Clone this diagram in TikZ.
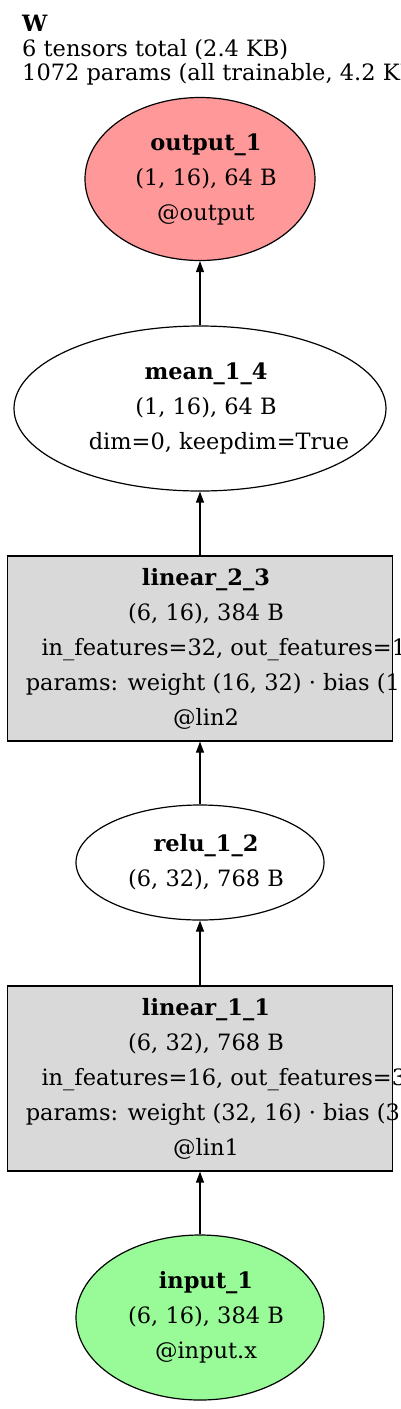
\documentclass[tikz,border=0pt]{standalone}
\usepackage{fontspec}
\setmainfont{DejaVu Serif}
\usetikzlibrary{arrows.meta, shapes.geometric}
\definecolor{outfill}{HTML}{FF9999}
\definecolor{infill}{HTML}{98FB98}
\definecolor{opfill}{HTML}{D9D9D9}

\begin{document}
\begin{tikzpicture}[
    x=1pt, y=1pt,
    >={Triangle[length=11pt, width=8pt]},
    font=\fontsize{22.5pt}{35pt}\selectfont,
    tensor/.style={draw, ellipse, line width=1.2pt, inner sep=0pt},
    layer/.style={draw, rectangle, line width=1.2pt, fill=opfill, minimum width=385pt, minimum height=185pt, inner sep=0pt},
    txt/.style={align=center, xshift=6pt, inner sep=0pt},
    edge/.style={->, line width=1.2pt}
    ]

% page: white, 400 x 1409
\fill[white] (0,0) rectangle (400,-1409);
\useasboundingbox (0,0) rectangle (400,-1409);

% header
\node[anchor=north west, align=left, inner sep=0pt, font=\fontsize{22.5pt}{24.5pt}\selectfont] (title) at (22,-15)
    {\textbf{W}\\6 tensors total (2.4 KB)\\1072 params (all trainable, 4.2 KB)};

% tensors and layers (fixed coordinates, top to bottom)
\node[tensor, fill=outfill, minimum width=230pt, minimum height=163pt,
    label={[txt]center:{\textbf{output\_1}\\(1, 16), 64 B\\@output}}] (out) at (200,-179) {};
\node[tensor, fill=white, minimum width=372pt, minimum height=165pt,
    label={[txt]center:{\textbf{mean\_1\_4}\\(1, 16), 64 B\\\hspace*{26pt}dim=0, keepdim=True}}] (mean) at (200,-408.5) {};
\node[layer,
    label={[txt]center:{\textbf{linear\_2\_3}\\(6, 16), 384 B\\\hspace*{50pt}in\_features=32, out\_features=16\\\hspace*{44pt}params: weight (16, 32) · bias (16,)\\@lin2}}] (lin2) at (200,-648.5) {};
\node[tensor, fill=white, minimum width=248pt, minimum height=115pt,
    label={[txt]center:{\textbf{relu\_1\_2}\\(6, 32), 768 B}}] (relu) at (200,-862.5) {};
\node[layer,
    label={[txt]center:{\textbf{linear\_1\_1}\\(6, 32), 768 B\\\hspace*{50pt}in\_features=16, out\_features=32\\\hspace*{44pt}params: weight (32, 16) · bias (32,)\\@lin1}}] (lin1) at (200,-1078.5) {};
\node[tensor, fill=infill, minimum width=248pt, minimum height=165pt,
    label={[txt]center:{\textbf{input\_1}\\(6, 16), 384 B\\@input.x}}] (inp) at (200,-1317.5) {};

% data flow, bottom to top
\draw[edge] (inp) -- (lin1);
\draw[edge] (lin1) -- (relu);
\draw[edge] (relu) -- (lin2);
\draw[edge] (lin2) -- (mean);
\draw[edge] (mean) -- (out);

\end{tikzpicture}
\end{document}
